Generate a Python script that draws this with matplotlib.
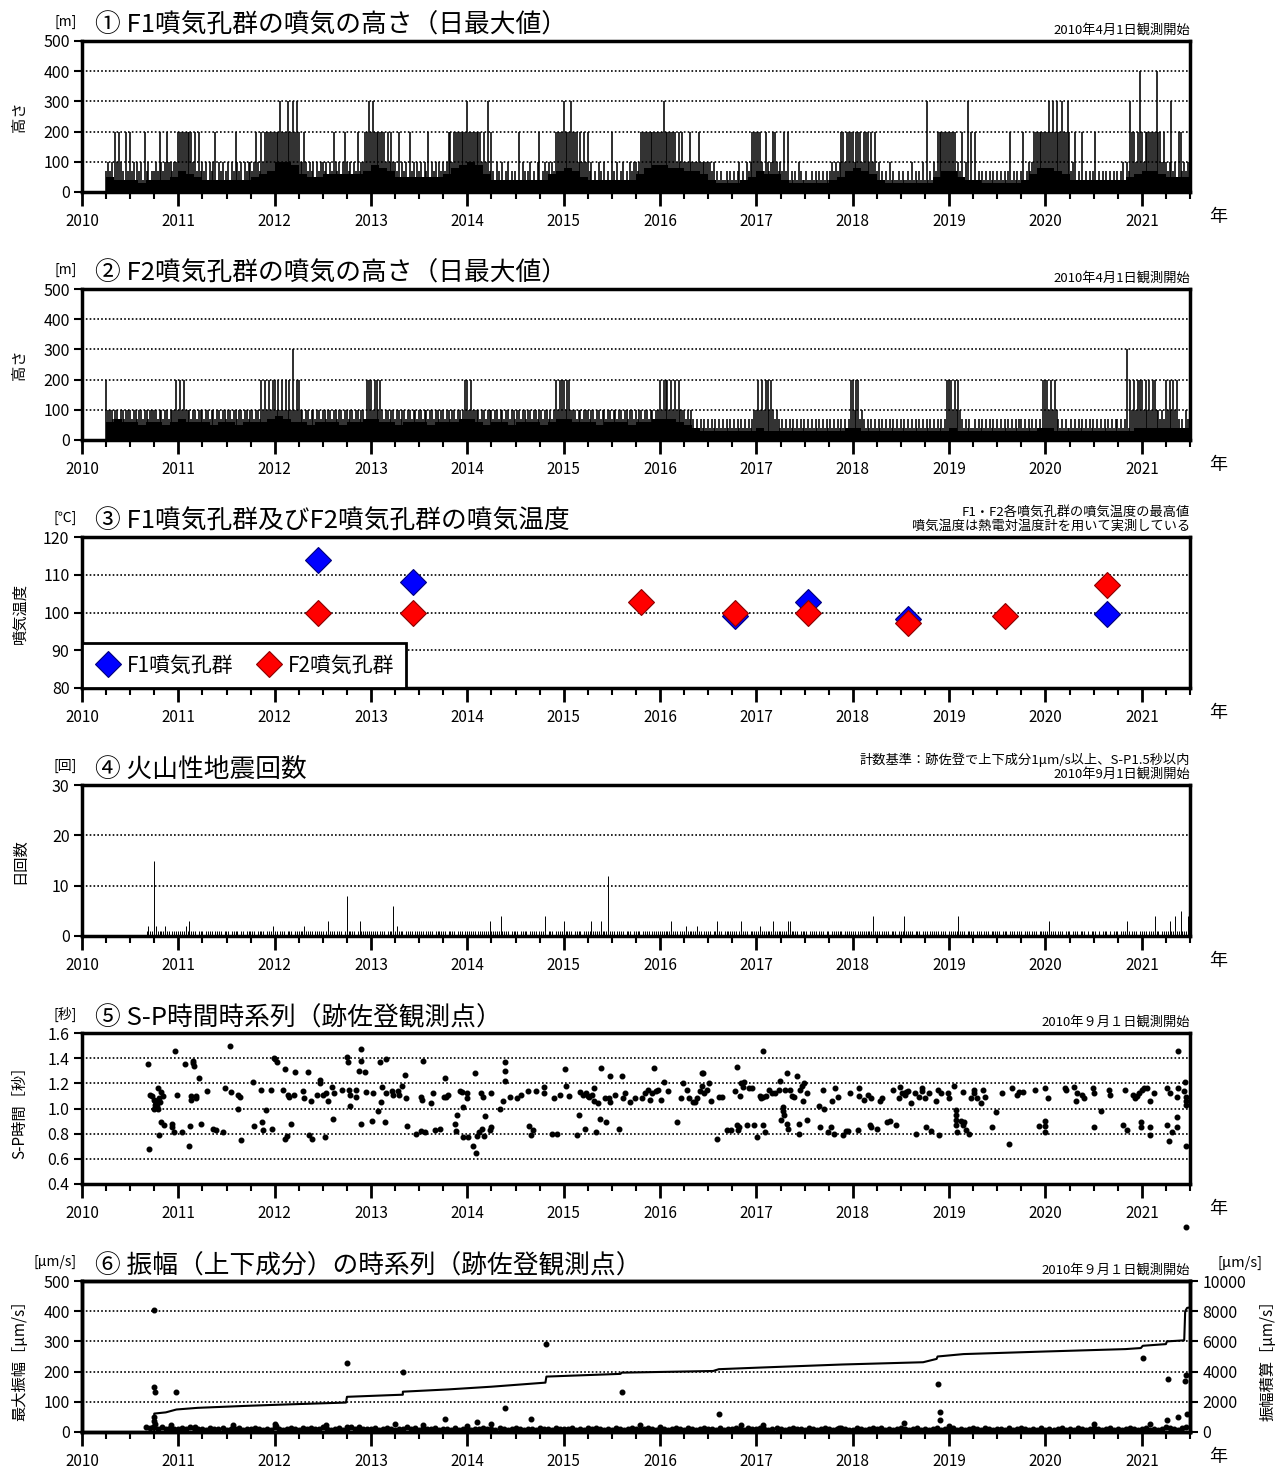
import numpy as np
import matplotlib
matplotlib.use("Agg")
import matplotlib.pyplot as plt
from matplotlib.ticker import MultipleLocator, FixedLocator

plt.rcParams['font.family'] = ['Noto Sans CJK JP', 'DejaVu Sans']
plt.rcParams['axes.linewidth'] = 2.5

W, H = 1277, 1468

years = list(range(2010, 2022))
year_labels = [str(y) for y in years]

# ---------------------------------------------------------------
# (1)(2) weekly max plume height, one string per year (4 x 13 weeks)
#   _ = no data, l = 40m, m = 70m, 1 = 100m, 2 = 200m, 3 = 300m, 4 = 400m
f1_weeks = [
    "_____________ m1m1l2121ml2m 2m1l1m1l2m1lm m1m21m1211m11",
    "2222222212m2m 1m1l1m12l1m1l m1l1m21m1l1m1 1m121m2122222",
    "2223222322323 21121m1m1l1m1 1m1l1m21m1l12 1m1l1m2m11223",
    "2322222212121 1m2l1m1l2m1l1 m1l1m2l1m1l1m 1m12212222222",
    "322222221213m 2ml1ml1lm1lml ml2l1mlm1lml1 2lm1m1l1m2222",
    "3222322212121 2m1lml1ml1lml 2ml1lm1lml1m1 1m12222222222",
    "2232222221212 1112111121111 11m1lmlmllmlm lmlm1lml1m122",
    "2221m21m1221m 1m2m2lmlml1ml lmllmlmlmlmlm lm1m1m1221222",
    "2122212221212 m1lmlml1lmllm lmllml1lmlml1 l3lml1m222222",
    "2222m1m2l13l2 l2lmlmlmlmlml mlmlmlm2lmlml m2lm1m1222222",
    "2232323223223 2m12lml2lmlml m2lmlmlmlmlml mlm1l1m322124",
    "2122222242212 1m13m1l22m1m1",
]
# monthly lower band of the daily values, hex digit x 10 m
f1_base = [
    "000544434445", "765444444567", "AA9655666667", "987555555689",
    "A96444444467", "875444444689", "988776433345", "766433333457",
    "876433333357", "754433333468", "876444444456", "776555",
]
f2_weeks = [
    "_____________ 2111m11m11m11 1m11m11m11m11 11m11m11m1112",
    "1212111m11m11 1m11m11m11m11 m11m11m11m11m 11m11m2121212",
    "2121212121312 211m11m11m11m 11m11m11m11m1 1m11m11m11m22",
    "2122121m11m11 m11m11m11m11m 11m11m11m11m1 1m11m11m11m12",
    "2121111m11m11 1m11m11m11m11 m11m11m11m11m 11m11m1m12122",
    "2122111m11m11 1m11m11m11m11 m11m11m11m11m 1m11m11m11m11",
    "2122212121211 1m1m1mlmlmlml mlmlmlmlmlmlm lmlmlmlmlmlm1",
    "1212122121m1m lmlmlmlmlmlml mlmlmlmlmlmlm lmlmlmlmlmlm2",
    "2122m1mlmlmlm lmlmlmlmlmlml mlmlmlmlmlmlm lmlmlmlmlmlm2",
    "2212121mlmlml lmlmlmlmlmlml mlmlmlmlmlmlm mlmlmlmlmlml2",
    "2212121mlmlml lmlmlmlmlmlml mlmlmlmlmlmlm mlmlm3l212122",
    "2121212211m1m 2121212mlml1m",
]
f2_base = [
    "000676656656", "766656656667", "876656665667", "766566656667",
    "765665666567", "766656665667", "776543333333", "433333333334",
    "433333333333", "433333333334", "433333333334", "444444",
]
height_code = {'l': 40, 'm': 70, '1': 100, '2': 200, '3': 300, '4': 400}

# (3) fumarole temperature (max of each survey)
t_f1_year = [2012.45, 2013.44, 2016.78, 2017.54, 2018.57, 2020.64]
t_f1 = [114.0, 108.0, 99.2, 102.9, 98.2, 99.5]
t_f2_year = [2012.45, 2013.44, 2015.80, 2016.78, 2017.54, 2018.57, 2019.58, 2020.64]
t_f2 = [100.0, 100.0, 102.9, 100.0, 100.0, 97.1, 99.0, 107.4]

# (4) weekly max of daily earthquake counts (hex digit), from 2010-09-01
eq_weeks = [
    "_____________ _____________ _________1211 F211112110111",
    "1111213111011 1011110111101 1101111011011 1110111101112",
    "1101110111011 1112111101111 1013111011101 8111101311111",
    "1111011101116 1211101111011 1110111101111 1101111011101",
    "1111101111113 1111141111011 1101111011110 1114011101111",
    "3111101111011 11311113111C1 1101111011101 1110111101111",
    "1111113111011 1211111211011 1101131101111 1110131110111",
    "1121111113111 1111331111011 1101111011101 1011111101111",
    "1101111111141 1101111011101 1141111011101 1101111101110",
    "1111141110111 1011101110111 1101110111011 1011101110111",
    "1131110111011 1011101110101 1101011101011 1011131011101",
    "1110111411011 1131141151114",
]

# (5) S-P time [s]
sp_year = [
    2010.69, 2010.70, 2010.71, 2010.73, 2010.75, 2010.76, 2010.77, 2010.78, 2010.79, 2010.77,
    2010.80, 2010.81, 2010.79, 2010.80, 2010.815, 2010.84, 2010.85, 2010.93, 2010.93, 2010.955,
    2010.97, 2010.99, 2010.82, 2010.75, 2010.76,
    2011.04, 2011.07, 2011.11, 2011.125, 2011.13, 2011.13, 2011.15, 2011.16, 2011.15, 2011.18,
    2011.18, 2011.21, 2011.24, 2011.30, 2011.36, 2011.39, 2011.46, 2011.48, 2011.54, 2011.55,
    2011.62, 2011.64, 2011.62, 2011.65, 2011.78, 2011.79, 2011.86, 2011.87, 2011.88, 2011.91,
    2011.96, 2011.97, 2011.99,
    2012.00, 2012.02, 2012.09, 2012.11, 2012.13, 2012.11, 2012.14, 2012.15, 2012.17, 2012.20,
    2012.21, 2012.29, 2012.30, 2012.35, 2012.36, 2012.38, 2012.39, 2012.44, 2012.47, 2012.47,
    2012.505, 2012.52, 2012.535, 2012.55, 2012.59, 2012.61, 2012.62, 2012.70, 2012.75, 2012.76,
    2012.77, 2012.78, 2012.78, 2012.84, 2012.845, 2012.87, 2012.90, 2012.90, 2012.90, 2012.94,
    2012.95,
    2013.01, 2013.02, 2013.07, 2013.09, 2013.10, 2013.11, 2013.155, 2013.14, 2013.16, 2013.22,
    2013.23, 2013.28, 2013.29, 2013.32, 2013.35, 2013.36, 2013.375, 2013.47, 2013.52, 2013.56,
    2013.54, 2013.52, 2013.53, 2013.62, 2013.64, 2013.66, 2013.72, 2013.77, 2013.78, 2013.76,
    2013.80, 2013.87, 2013.885, 2013.89, 2013.92, 2013.94, 2013.95, 2013.95,
    2014.00, 2014.00, 2014.01, 2014.055, 2014.09, 2014.08, 2014.10, 2014.12, 2014.14, 2014.15,
    2014.17, 2014.18, 2014.16, 2014.23, 2014.24, 2014.24, 2014.34, 2014.37, 2014.39, 2014.39,
    2014.39, 2014.44, 2014.51, 2014.56, 2014.63, 2014.64, 2014.66, 2014.68, 2014.71, 2014.79,
    2014.79, 2014.88, 2014.90, 2014.93, 2014.96,
    2015.01, 2015.02, 2015.05, 2015.14, 2015.16, 2015.17, 2015.20, 2015.23, 2015.25, 2015.265,
    2015.29, 2015.22, 2015.31, 2015.31, 2015.33, 2015.36, 2015.38, 2015.39, 2015.43, 2015.44,
    2015.47, 2015.48, 2015.48, 2015.53, 2015.57, 2015.60, 2015.61, 2015.635, 2015.69, 2015.74,
    2015.81, 2015.84, 2015.87, 2015.895, 2015.92, 2015.94, 2015.96, 2015.98,
    2016.01, 2016.04, 2016.08, 2016.18, 2016.22, 2016.24, 2016.28, 2016.30, 2016.34, 2016.36,
    2016.38, 2016.41, 2016.43, 2016.45, 2016.44, 2016.46, 2016.49, 2016.51, 2016.53, 2016.59,
    2016.61, 2016.64, 2016.69, 2016.74, 2016.78, 2016.80, 2016.80, 2016.81, 2016.82, 2016.83,
    2016.84, 2016.86, 2016.87, 2016.90, 2016.92, 2016.95, 2016.97,
    2017.01, 2017.04, 2017.05, 2017.07, 2017.10, 2017.07, 2017.07, 2017.09, 2017.13, 2017.16,
    2017.19, 2017.24, 2017.23, 2017.25, 2017.28, 2017.28, 2017.29, 2017.30, 2017.32, 2017.32,
    2017.33, 2017.35, 2017.37, 2017.39, 2017.42, 2017.44, 2017.44, 2017.45, 2017.47, 2017.49,
    2017.48, 2017.52, 2017.525, 2017.65, 2017.66, 2017.70, 2017.69, 2017.74, 2017.77, 2017.78,
    2017.81, 2017.82, 2017.85, 2017.90, 2017.93, 2017.95, 2017.97,
    2018.05, 2018.06, 2018.06, 2018.12, 2018.16, 2018.19, 2018.18, 2018.19, 2018.25, 2018.28,
    2018.30, 2018.36, 2018.39, 2018.42, 2018.45, 2018.48, 2018.49, 2018.51, 2018.54, 2018.55,
    2018.57, 2018.605, 2018.65, 2018.66, 2018.69, 2018.72, 2018.72, 2018.75, 2018.76, 2018.79,
    2018.81, 2018.86, 2018.88, 2018.90, 2018.92, 2018.99,
    2019.00, 2019.055, 2019.07, 2019.07, 2019.07, 2019.07, 2019.08, 2019.12, 2019.14, 2019.14,
    2019.15, 2019.18, 2019.21, 2019.23, 2019.26, 2019.26, 2019.29, 2019.33, 2019.35, 2019.37,
    2019.45, 2019.49, 2019.55, 2019.62, 2019.65, 2019.70, 2019.73, 2019.77, 2019.89, 2019.93,
    2020.00, 2020.00, 2020.00, 2020.00, 2020.03, 2020.20, 2020.21, 2020.30, 2020.32, 2020.33,
    2020.38, 2020.40, 2020.49, 2020.50, 2020.50, 2020.58, 2020.66, 2020.67, 2020.80, 2020.83,
    2020.85, 2020.91, 2020.93, 2020.95, 2020.97, 2020.99, 2020.99,
    2021.00, 2021.02, 2021.05, 2021.08, 2021.09, 2021.09, 2021.13, 2021.26, 2021.26, 2021.285,
    2021.29, 2021.315, 2021.36, 2021.365, 2021.38, 2021.38, 2021.365, 2021.44, 2021.45, 2021.46,
    2021.46, 2021.46, 2021.46, 2021.46,
]
sp_sec = [
    1.35, 0.68, 1.11, 1.10, 1.07, 1.06, 1.05, 1.02, 1.00, 1.06,
    1.08, 1.05, 1.16, 0.79, 0.89, 1.10, 0.87, 0.88, 0.85, 0.81,
    1.46, 1.11, 1.13, 1.00, 1.03,
    0.81, 1.35, 0.70, 0.86, 1.10, 1.07, 1.38, 1.34, 1.36, 1.10,
    1.08, 1.24, 0.88, 1.14, 0.84, 0.83, 0.81, 1.16, 1.50, 1.13,
    1.11, 1.09, 1.00, 0.75, 1.21, 0.86, 1.15, 0.89, 0.83, 0.99,
    1.15, 0.84, 1.40,
    1.39, 1.37, 1.15, 0.76, 0.78, 1.31, 1.11, 1.09, 0.88, 1.11,
    1.29, 1.14, 1.08, 1.29, 0.79, 1.06, 0.76, 1.11, 1.23, 1.20,
    1.11, 0.77, 1.12, 1.06, 1.17, 0.92, 1.12, 1.15, 1.41, 1.37,
    1.15, 1.11, 1.02, 1.15, 1.09, 1.30, 1.47, 1.38, 0.88, 1.29,
    1.13,
    0.90, 1.12, 0.98, 1.37, 1.05, 1.17, 1.39, 0.89, 1.12, 1.14,
    1.11, 1.14, 1.11, 1.18, 1.27, 1.08, 0.86, 0.80, 0.82, 0.81,
    1.38, 1.09, 1.07, 1.04, 1.12, 0.83, 0.84, 1.24, 1.09, 1.09,
    1.11, 0.88, 0.82, 0.95, 1.14, 1.13, 0.77, 1.01,
    1.12, 1.08, 0.77, 0.70, 0.65, 1.28, 0.78, 0.81, 1.12, 0.84,
    0.78, 0.94, 1.09, 0.83, 0.85, 1.12, 1.00, 1.06, 1.37, 1.30,
    1.22, 1.09, 1.08, 1.11, 1.14, 0.86, 0.79, 0.83, 1.14, 1.17,
    1.12, 0.80, 1.08, 0.80, 1.11,
    1.31, 1.18, 1.10, 0.79, 0.95, 1.13, 1.11, 1.12, 1.10, 1.09,
    1.11, 0.84, 1.16, 1.06, 0.81, 1.04, 0.92, 1.32, 1.08, 0.89,
    1.08, 1.05, 1.26, 1.11, 0.84, 1.26, 1.08, 1.12, 1.05, 1.08,
    1.08, 1.12, 1.15, 1.07, 1.12, 1.32, 1.14, 1.15,
    1.07, 1.21, 1.14, 0.89, 1.08, 1.20, 1.15, 1.08, 1.05, 1.05,
    1.08, 1.14, 1.28, 1.28, 1.18, 1.12, 1.15, 1.20, 1.06, 0.76,
    1.09, 1.09, 0.83, 0.83, 1.14, 1.33, 0.87, 0.83, 0.85, 1.10,
    1.20, 1.17, 1.21, 0.87, 1.16, 1.16, 0.87,
    0.77, 1.10, 1.08, 1.09, 1.10, 1.46, 0.87, 0.81, 1.15, 1.12,
    1.12, 1.22, 1.15, 0.91, 1.01, 0.98, 0.95, 1.15, 1.28, 0.88,
    0.84, 1.15, 1.10, 1.09, 1.26, 0.80, 0.88, 1.15, 1.18, 1.20,
    1.06, 1.12, 0.91, 1.02, 0.85, 1.00, 1.15, 0.81, 0.85, 1.06,
    0.80, 1.16, 1.09, 0.79, 0.82, 0.82, 1.12,
    0.83, 1.16, 1.10, 1.07, 1.11, 1.08, 0.87, 0.85, 0.84, 1.06,
    1.08, 0.89, 0.90, 1.15, 0.87, 1.08, 1.17, 1.12, 1.11, 1.13,
    1.14, 1.04, 1.12, 0.80, 1.09, 1.16, 1.14, 1.08, 0.85, 1.12,
    0.82, 1.06, 1.15, 0.79, 1.12, 1.12,
    1.08, 1.18, 0.99, 0.95, 0.91, 0.87, 0.81, 0.90, 0.87, 1.13,
    0.89, 0.83, 0.80, 1.08, 1.15, 1.12, 1.08, 1.04, 1.15, 1.09,
    0.85, 0.97, 1.12, 0.72, 1.16, 1.11, 1.13, 1.13, 1.15, 0.86,
    1.16, 0.90, 0.86, 0.81, 1.08, 1.16, 1.15, 1.17, 1.06, 1.12,
    1.11, 1.08, 1.16, 1.12, 0.85, 0.98, 1.15, 1.11, 0.87, 1.15,
    0.83, 1.11, 1.08, 1.10, 1.12, 0.89, 0.85,
    1.15, 1.16, 1.16, 1.06, 0.79, 0.85, 1.12, 1.16, 0.87, 0.74,
    1.12, 0.81, 0.93, 0.85, 1.46, 1.16, 1.09, 1.14, 1.21, 1.09,
    1.06, 1.03, 0.70, 0.06,
]

# (6) max amplitude (vertical) [um/s]: larger events
amp_year = [2010.75, 2010.75, 2010.76, 2010.75, 2010.75, 2010.76, 2010.74, 2010.98, 2010.92, 2011.17,
            2011.57, 2012.00, 2012.01, 2012.53, 2012.75, 2012.75, 2012.87, 2013.25, 2013.33, 2013.54,
            2013.77, 2014.00, 2014.10, 2014.24, 2014.39, 2014.66, 2014.82, 2015.60, 2015.79, 2016.00,
            2016.61, 2016.84, 2017.07, 2017.86, 2018.53, 2018.88, 2018.91, 2018.91, 2019.00, 2020.50,
            2021.01, 2021.08, 2021.26, 2021.27, 2021.38, 2021.45, 2021.46, 2021.47]
amp_val = [403, 150, 133, 50, 38, 28, 18, 131, 24, 16,
           22, 28, 20, 22, 228, 18, 17, 26, 198, 22,
           44, 20, 33, 28, 81, 42, 291, 131, 24, 17,
           59, 22, 22, 14, 30, 158, 67, 39, 20, 27,
           246, 28, 39, 174, 50, 169, 189, 60]
# small events, one per half month, digit x 3 um/s
amp_small = [
    "________________64535343",
    "343543324334233423343232",
    "532343243433632342353433",
    "342343233534243342332423",
    "423343324323432332433243",
    "334232434323243234323432",
    "432343243234332423343243",
    "343234323433243234323432",
    "243234342323432342323423",
    "342323432432332423432324",
    "232342324323432342323432",
    "342323543245",
]
# cumulative amplitude [um/s]
cum_year = [2010.67, 2010.75, 2010.75, 2010.87, 2010.98, 2011.20, 2011.70, 2012.10, 2012.74, 2012.75,
            2013.20, 2013.33, 2013.33, 2013.80, 2014.25, 2014.81, 2014.82, 2015.59, 2015.60, 2016.55,
            2016.61, 2017.05, 2017.89, 2018.73, 2018.87, 2018.88, 2019.15, 2019.99, 2020.83, 2020.99,
            2021.01, 2021.25, 2021.26, 2021.44, 2021.45, 2021.47, 2021.50]
cum_val = [0, 0, 1220, 1300, 1490, 1600, 1730, 1820, 1950, 2330,
           2440, 2470, 2670, 2820, 3000, 3270, 3670, 3850, 3930, 4040,
           4160, 4270, 4470, 4620, 4840, 5000, 5160, 5330, 5490, 5560,
           5710, 5820, 6000, 6070, 8000, 8220, 8250]


def decode(strings, step, table):
    xs, vs = [], []
    for yr, s in zip(years, strings):
        s = s.replace(' ', '')
        for i, ch in enumerate(s):
            if ch == '_':
                continue
            xs.append(yr + i * step)
            vs.append(table(ch))
    return np.array(xs), np.array(vs, dtype=float)


WEEK = 7 / 365.25


def style(ax, yticks, fmt=None):
    ax.set_xlim(2010, 2021.5)
    ax.xaxis.set_major_locator(FixedLocator(years))
    ax.set_xticklabels(year_labels)
    ax.xaxis.set_minor_locator(MultipleLocator(0.25))
    ax.tick_params(axis='x', which='major', direction='out', length=10, width=2,
                   pad=5, labelsize=11)
    ax.tick_params(axis='x', which='minor', direction='out', length=5, width=1.5)
    ax.set_ylim(yticks[0], yticks[-1])
    ax.set_yticks(yticks)
    if fmt:
        ax.set_yticklabels([fmt % v for v in yticks])
    ax.tick_params(axis='y', direction='out', length=6, width=1.5, pad=3, labelsize=11.5)
    ax.yaxis.grid(True, ls=(0, (1, 1.3)), color='k', lw=1.2)


def px(x, y):
    return x / W, 1 - y / H


fig = plt.figure(figsize=(W / 100, H / 100), dpi=100)
tops = [41, 289, 537, 785, 1033, 1281]
axes = [fig.add_axes([82 / W, 1 - (t + 151) / H, 1108 / W, 151 / H]) for t in tops]

units = ["[m]", "[m]", "[℃]", "[回]", "[秒]", "[μm/s]"]
titles = ["① F1噴気孔群の噴気の高さ（日最大値）",
          "② F2噴気孔群の噴気の高さ（日最大値）",
          "③ F1噴気孔群及びF2噴気孔群の噴気温度",
          "④ 火山性地震回数",
          "⑤ S-P時間時系列（跡佐登観測点）",
          "⑥ 振幅（上下成分）の時系列（跡佐登観測点）"]
ylabels = ["高さ", "高さ", "噴気温度", "日回数", "S-P時間［秒］", "最大振幅［μm/s］"]
notes = [["2010年4月1日観測開始"],
         ["2010年4月1日観測開始"],
         ["F1・F2各噴気孔群の噴気温度の最高値", "噴気温度は熱電対温度計を用いて実測している"],
         ["計数基準：跡佐登で上下成分1μm/s以上、S-P1.5秒以内", "2010年9月1日観測開始"],
         ["2010年９月１日観測開始"],
         ["2010年９月１日観測開始"]]

# (1), (2) plume heights
for ax, weeks, base in [(axes[0], f1_weeks, f1_base), (axes[1], f2_weeks, f2_base)]:
    wx, wv = decode(weeks, WEEK, lambda c: height_code[c])
    bx, bv = decode(base, 1 / 12, lambda c: int(c, 16) * 10)
    bx = np.append(bx, 2021.5)
    bv = np.append(bv, bv[-1])
    ax.fill_between(bx, 0, bv, step='post', color='k', lw=0)
    ax.vlines(wx, 0, wv, color='k', lw=1.15)
    style(ax, [0, 100, 200, 300, 400, 500])

# (3) temperature
ax = axes[2]
ax.plot(t_f1_year, t_f1, 'D', ls='none', color='#0000ff', mec='#00007a', mew=0.8, ms=13,
        label='F1噴気孔群')
ax.plot(t_f2_year, t_f2, 'D', ls='none', color='#ff0000', mec='#8a0000', mew=0.8, ms=13,
        label='F2噴気孔群')
style(ax, [80, 90, 100, 110, 120])
leg = ax.legend(loc='lower left', ncol=2, fontsize=15, frameon=True, fancybox=False,
                edgecolor='k', framealpha=1, borderaxespad=0, handletextpad=0.2,
                columnspacing=1.0, handlelength=1.4, borderpad=0.55)
leg.get_frame().set_linewidth(2)

# (4) earthquake counts
ax = axes[3]
ex, ev = decode(eq_weeks, WEEK, lambda c: int(c, 16))
ax.vlines(ex, 0, ev, color='k', lw=0.7)
style(ax, [0, 10, 20, 30])

# (5) S-P time
ax = axes[4]
ax.plot(sp_year, sp_sec, 'o', ls='none', color='k', ms=3.3, clip_on=False)
style(ax, [0.4, 0.6, 0.8, 1.0, 1.2, 1.4, 1.6], fmt='%.1f')

# (6) amplitude and cumulative amplitude
ax = axes[5]
sx, sv = decode(amp_small, 1 / 24, lambda c: int(c) * 3)
ax.plot(sx, sv, 'o', ls='none', color='k', ms=3.3)
ax.plot(amp_year, amp_val, 'o', ls='none', color='k', ms=3.3)
style(ax, [0, 100, 200, 300, 400, 500])
ax2 = ax.twinx()
ax2.plot(cum_year, cum_val, color='k', lw=1.5)
ax2.set_ylim(0, 10000)
ax2.set_yticks(range(0, 10001, 2000))
ax2.tick_params(axis='y', direction='out', length=6, width=1.5, pad=3, labelsize=11.5)

# texts
for i, t in enumerate(tops):
    fig.text(*px(77, t - 19), units[i], ha='right', va='center', fontsize=10)
    fig.text(*px(95, t - 15), titles[i], ha='left', va='center', fontsize=18.5)
    for k, line in enumerate(reversed(notes[i])):
        fig.text(*px(1190, t - 11 - 14 * k), line, ha='right', va='center', fontsize=9.5)
    fig.text(*px(20, t + 76), ylabels[i], ha='center', va='center', rotation=90, fontsize=11)
    fig.text(*px(1218, t + 176), "年", ha='center', va='center', fontsize=13)

fig.text(*px(1240, 1263), "[μm/s]", ha='center', va='center', fontsize=10.5)
fig.text(*px(1268, 1357), "振幅積算［μm/s］", ha='center', va='center', rotation=90, fontsize=11)

fig.savefig("out.png", dpi=100)
